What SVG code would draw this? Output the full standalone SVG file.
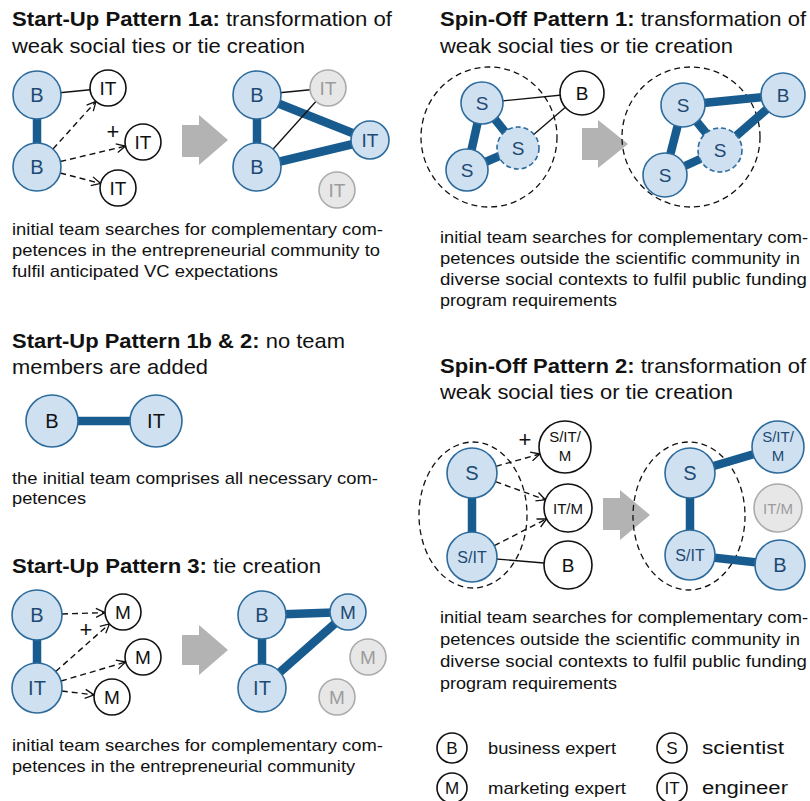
<svg xmlns="http://www.w3.org/2000/svg" width="810" height="801" viewBox="0 0 810 801">
<style>
text{font-family:"Liberation Sans",Arial,Helvetica,sans-serif;fill:#111}
.ti{font-size:21px}
.b{font-weight:bold}
.bd{font-size:17px}
.nb{fill:#cfe0f1;stroke:#2c6b9c;stroke-width:1.6}
.nbd{fill:#cfe0f1;stroke:#2c6b9c;stroke-width:1.6;stroke-dasharray:5 3}
.nw{fill:#fff;stroke:#111;stroke-width:1.6}
.ng{fill:#e7e7e7;stroke:#ababab;stroke-width:1.6}
.l{text-anchor:middle}
.lb{fill:#1d4a73}
.lg{fill:#9c9c9c}
.thick{stroke:#185b8e;stroke-width:8.5;fill:none}
.thin{stroke:#111;stroke-width:1.3;fill:none}
.dash{stroke:#111;stroke-width:1.4;stroke-dasharray:6 4;fill:none;marker-end:url(#arr)}
.ring{fill:none;stroke:#111;stroke-width:1.3;stroke-dasharray:6 4}
.big{fill:#b3b3b3}
</style>
<defs>
<marker id="arr" markerUnits="userSpaceOnUse" markerWidth="12" markerHeight="12" refX="10" refY="6" orient="auto">
<path d="M1,1.5 L10,6 L1,10.5" fill="none" stroke="#111" stroke-width="1.3"/>
</marker>
</defs>

<!-- titles and texts -->
<g id="texts">
<text class="ti" x="12" y="26" textLength="380" lengthAdjust="spacingAndGlyphs"><tspan class="b">Start-Up Pattern 1a:</tspan> transformation of</text>
<text class="ti" x="12" y="53" textLength="293" lengthAdjust="spacingAndGlyphs">weak social ties or tie creation</text>
<text class="ti" x="440" y="26" textLength="366" lengthAdjust="spacingAndGlyphs"><tspan class="b">Spin-Off Pattern 1:</tspan> transformation of</text>
<text class="ti" x="440" y="53" textLength="293" lengthAdjust="spacingAndGlyphs">weak social ties or tie creation</text>
<text class="bd" x="12" y="235" textLength="371" lengthAdjust="spacingAndGlyphs">initial team searches for complementary com-</text>
<text class="bd" x="12" y="256" textLength="368" lengthAdjust="spacingAndGlyphs">petences in the entrepreneurial community to</text>
<text class="bd" x="12" y="277" textLength="266" lengthAdjust="spacingAndGlyphs">fulfil anticipated VC expectations</text>
<text class="bd" x="440" y="243" textLength="368" lengthAdjust="spacingAndGlyphs">initial team searches for complementary com-</text>
<text class="bd" x="440" y="264" textLength="360" lengthAdjust="spacingAndGlyphs">petences outside the scientific community in</text>
<text class="bd" x="440" y="285" textLength="367" lengthAdjust="spacingAndGlyphs">diverse social contexts to fulfil public funding</text>
<text class="bd" x="440" y="306" textLength="177" lengthAdjust="spacingAndGlyphs">program requirements</text>
<text class="ti" x="12" y="348" textLength="333" lengthAdjust="spacingAndGlyphs"><tspan class="b">Start-Up Pattern 1b &amp; 2:</tspan> no team</text>
<text class="ti" x="12" y="374" textLength="196" lengthAdjust="spacingAndGlyphs">members are added</text>
<text class="bd" x="12" y="484" textLength="366" lengthAdjust="spacingAndGlyphs">the initial team comprises all necessary com-</text>
<text class="bd" x="12" y="504" textLength="74" lengthAdjust="spacingAndGlyphs">petences</text>
<text class="ti" x="440" y="373" textLength="366" lengthAdjust="spacingAndGlyphs"><tspan class="b">Spin-Off Pattern 2:</tspan> transformation of</text>
<text class="ti" x="440" y="399" textLength="293" lengthAdjust="spacingAndGlyphs">weak social ties or tie creation</text>
<text class="ti" x="12" y="573" textLength="309" lengthAdjust="spacingAndGlyphs"><tspan class="b">Start-Up Pattern 3:</tspan> tie creation</text>
<text class="bd" x="440" y="623" textLength="368" lengthAdjust="spacingAndGlyphs">initial team searches for complementary com-</text>
<text class="bd" x="440" y="645" textLength="360" lengthAdjust="spacingAndGlyphs">petences outside the scientific community in</text>
<text class="bd" x="440" y="667" textLength="367" lengthAdjust="spacingAndGlyphs">diverse social contexts to fulfil public funding</text>
<text class="bd" x="440" y="689" textLength="177" lengthAdjust="spacingAndGlyphs">program requirements</text>
<text class="bd" x="12" y="751" textLength="371" lengthAdjust="spacingAndGlyphs">initial team searches for complementary com-</text>
<text class="bd" x="12" y="772" textLength="343" lengthAdjust="spacingAndGlyphs">petences in the entrepreneurial community</text>
<text x="113" y="139" font-size="22" class="l">+</text>
<text x="86" y="637" font-size="22" class="l">+</text>
<text x="525" y="447" font-size="22" class="l">+</text>
</g>

<!-- big transition arrows -->
<g id="transitions">
<polygon class="big" points="182,125 199,125 199,115 228,140 199,165 199,157 182,157"/>
<polygon class="big" points="582,128 598,128 598,120 628,144 598,168 598,160 582,160"/>
<polygon class="big" points="182,635 199,635 199,625 228,650 199,675 199,665 182,665"/>
<polygon class="big" points="603,498 620,498 620,490 650,515 620,540 620,530 603,530"/>
</g>

<!-- dashed community rings -->
<g id="rings">
<ellipse class="ring" cx="489" cy="137" rx="68" ry="70"/>
<ellipse class="ring" cx="691" cy="137" rx="69" ry="70"/>
<ellipse class="ring" cx="473" cy="515" rx="54" ry="73"/>
<ellipse class="ring" cx="689" cy="516" rx="56" ry="74"/>
</g>

<g id="connectors">
<!-- SU 1a left -->
<line class="thick" x1="37" y1="95" x2="37" y2="167"/>
<line class="thin" x1="37" y1="95" x2="108" y2="88"/>
<line class="dash" x1="53" y1="149" x2="96" y2="101.4"/>
<line class="dash" x1="60.3" y1="161.5" x2="125.5" y2="146.1"/>
<line class="dash" x1="60.2" y1="173" x2="100.6" y2="183.5"/>
<!-- SU 1a right -->
<line class="thick" x1="257" y1="95" x2="257" y2="167"/>
<line class="thick" x1="257" y1="95" x2="370" y2="140"/>
<line class="thick" x1="257" y1="167" x2="370" y2="140"/>
<line class="thin" x1="257" y1="95" x2="328" y2="88"/>
<line class="thin" x1="257" y1="167" x2="328" y2="88"/>
<!-- SO 1 left -->
<line class="thick" x1="482" y1="103" x2="467" y2="170"/>
<line class="thick" x1="482" y1="103" x2="518" y2="148"/>
<line class="thick" x1="467" y1="170" x2="518" y2="148"/>
<line class="thin" x1="482" y1="103" x2="582" y2="93"/>
<line class="thin" x1="518" y1="148" x2="582" y2="93"/>
<!-- SO 1 right -->
<line class="thick" x1="683" y1="105" x2="665" y2="175"/>
<line class="thick" x1="683" y1="105" x2="720" y2="150"/>
<line class="thick" x1="665" y1="175" x2="720" y2="150"/>
<line class="thick" x1="683" y1="105" x2="783" y2="95"/>
<line class="thick" x1="720" y1="150" x2="783" y2="95"/>
<!-- SU 1b -->
<line class="thick" x1="52" y1="421" x2="156" y2="421" stroke-width="9.5"/>
<!-- SO 2 left -->
<line class="thick" x1="472" y1="473" x2="472" y2="557"/>
<line class="dash" x1="496" y1="466.3" x2="540" y2="454"/>
<line class="dash" x1="495.5" y1="481.6" x2="545.4" y2="499.8"/>
<line class="dash" x1="494.3" y1="545.6" x2="546.6" y2="518.9"/>
<line class="thin" x1="472" y1="557" x2="568" y2="565"/>
<!-- SO 2 right -->
<line class="thick" x1="690" y1="473" x2="690" y2="555"/>
<line class="thick" x1="690" y1="473" x2="778" y2="447"/>
<line class="thick" x1="690" y1="555" x2="780" y2="565"/>
<!-- SU 3 left -->
<line class="thick" x1="37" y1="615" x2="37" y2="688"/>
<line class="dash" x1="62" y1="614" x2="105" y2="612.6"/>
<line class="dash" x1="55.7" y1="671.5" x2="109.5" y2="623.9"/>
<line class="dash" x1="61" y1="681" x2="125.7" y2="662"/>
<line class="dash" x1="61.8" y1="691" x2="94.1" y2="694.9"/>
<!-- SU 3 right -->
<line class="thick" x1="262" y1="615" x2="262" y2="688"/>
<line class="thick" x1="262" y1="615" x2="348" y2="612"/>
<line class="thick" x1="262" y1="688" x2="348" y2="612"/>
</g>

<!-- Start-Up 1a nodes -->
<g id="su1a-B1"><circle class="nb" cx="37" cy="95" r="24"/><text class="l lb" x="37" y="102" font-size="20">B</text></g>
<g id="su1a-B2"><circle class="nb" cx="37" cy="167" r="24"/><text class="l lb" x="37" y="174" font-size="20">B</text></g>
<g id="su1a-IT1"><circle class="nw" cx="108" cy="88" r="18"/><text class="l" x="108" y="95" font-size="19">IT</text></g>
<g id="su1a-IT2"><circle class="nw" cx="143" cy="142" r="18"/><text class="l" x="143" y="149" font-size="19">IT</text></g>
<g id="su1a-IT3"><circle class="nw" cx="118" cy="188" r="18"/><text class="l" x="118" y="195" font-size="19">IT</text></g>
<g id="su1a-B1r"><circle class="nb" cx="257" cy="95" r="24"/><text class="l lb" x="257" y="102" font-size="20">B</text></g>
<g id="su1a-B2r"><circle class="nb" cx="257" cy="167" r="24"/><text class="l lb" x="257" y="174" font-size="20">B</text></g>
<g id="su1a-IT1r"><circle class="ng" cx="328" cy="88" r="18"/><text class="l lg" x="328" y="95" font-size="19">IT</text></g>
<g id="su1a-IT2r"><circle class="nb" cx="370" cy="140" r="19"/><text class="l lb" x="370" y="147" font-size="19">IT</text></g>
<g id="su1a-IT3r"><circle class="ng" cx="337" cy="190" r="18"/><text class="l lg" x="337" y="197" font-size="19">IT</text></g>

<!-- Spin-Off 1 nodes -->
<g id="so1-S1"><circle class="nb" cx="482" cy="103" r="21"/><text class="l lb" x="482" y="110" font-size="19">S</text></g>
<g id="so1-S2"><circle class="nb" cx="467" cy="170" r="21"/><text class="l lb" x="467" y="177" font-size="19">S</text></g>
<g id="so1-S3"><circle class="nbd" cx="518" cy="148" r="21"/><text class="l lb" x="518" y="155" font-size="19">S</text></g>
<g id="so1-B"><circle class="nw" cx="582" cy="93" r="22"/><text class="l" x="582" y="100" font-size="19">B</text></g>
<g id="so1-S1r"><circle class="nb" cx="683" cy="105" r="22"/><text class="l lb" x="683" y="112" font-size="19">S</text></g>
<g id="so1-S2r"><circle class="nb" cx="665" cy="175" r="22"/><text class="l lb" x="665" y="182" font-size="19">S</text></g>
<g id="so1-S3r"><circle class="nbd" cx="720" cy="150" r="22"/><text class="l lb" x="720" y="157" font-size="19">S</text></g>
<g id="so1-Br"><circle class="nb" cx="783" cy="95" r="22"/><text class="l lb" x="783" y="102" font-size="19">B</text></g>

<!-- Start-Up 1b nodes -->
<g id="su1b-B"><circle class="nb" cx="52" cy="421" r="26"/><text class="l" x="52" y="428" font-size="20">B</text></g>
<g id="su1b-IT"><circle class="nb" cx="156" cy="421" r="26"/><text class="l" x="156" y="428" font-size="20">IT</text></g>

<!-- Spin-Off 2 nodes -->
<g id="so2-S"><circle class="nb" cx="472" cy="473" r="25"/><text class="l lb" x="472" y="480" font-size="20">S</text></g>
<g id="so2-SIT"><circle class="nb" cx="472" cy="557" r="25"/><text class="l lb" x="472" y="563" font-size="16">S/IT</text></g>
<g id="so2-SITM"><circle class="nw" cx="565" cy="447" r="26"/><text class="l" x="565" y="442" font-size="15">S/IT/</text><text class="l" x="565" y="461" font-size="15">M</text></g>
<g id="so2-ITM"><circle class="nw" cx="568" cy="508" r="24"/><text class="l" x="568" y="514" font-size="15">IT/M</text></g>
<g id="so2-B"><circle class="nw" cx="568" cy="565" r="24"/><text class="l" x="568" y="572" font-size="19">B</text></g>
<g id="so2-Sr"><circle class="nb" cx="690" cy="473" r="25"/><text class="l lb" x="690" y="480" font-size="20">S</text></g>
<g id="so2-SITr"><circle class="nb" cx="690" cy="555" r="25"/><text class="l lb" x="690" y="561" font-size="16">S/IT</text></g>
<g id="so2-SITMr"><circle class="nb" cx="778" cy="447" r="26"/><text class="l lb" x="778" y="442" font-size="15">S/IT/</text><text class="l lb" x="778" y="461" font-size="15">M</text></g>
<g id="so2-ITMr"><circle class="ng" cx="778" cy="508" r="24"/><text class="l lg" x="778" y="514" font-size="15">IT/M</text></g>
<g id="so2-Br"><circle class="nb" cx="780" cy="565" r="25"/><text class="l lb" x="780" y="572" font-size="20">B</text></g>

<!-- Start-Up 3 nodes -->
<g id="su3-B"><circle class="nb" cx="37" cy="615" r="25"/><text class="l lb" x="37" y="622" font-size="20">B</text></g>
<g id="su3-IT"><circle class="nb" cx="37" cy="688" r="25"/><text class="l lb" x="37" y="695" font-size="20">IT</text></g>
<g id="su3-M1"><circle class="nw" cx="123" cy="612" r="18"/><text class="l" x="123" y="619" font-size="19">M</text></g>
<g id="su3-M2"><circle class="nw" cx="143" cy="657" r="18"/><text class="l" x="143" y="664" font-size="19">M</text></g>
<g id="su3-M3"><circle class="nw" cx="112" cy="697" r="18"/><text class="l" x="112" y="704" font-size="19">M</text></g>
<g id="su3-Br"><circle class="nb" cx="262" cy="615" r="24"/><text class="l lb" x="262" y="622" font-size="20">B</text></g>
<g id="su3-ITr"><circle class="nb" cx="262" cy="688" r="24"/><text class="l lb" x="262" y="695" font-size="20">IT</text></g>
<g id="su3-M1r"><circle class="nb" cx="348" cy="612" r="18"/><text class="l lb" x="348" y="619" font-size="19">M</text></g>
<g id="su3-M2r"><circle class="ng" cx="368" cy="657" r="18"/><text class="l lg" x="368" y="664" font-size="19">M</text></g>
<g id="su3-M3r"><circle class="ng" cx="337" cy="697" r="18"/><text class="l lg" x="337" y="704" font-size="19">M</text></g>

<!-- Legend -->
<g id="legend-B"><circle class="nw" cx="452" cy="748" r="15"/><text class="l" x="452" y="754" font-size="17">B</text><text x="488" y="754" font-size="17" textLength="128" lengthAdjust="spacingAndGlyphs">business expert</text></g>
<g id="legend-S"><circle class="nw" cx="672" cy="748" r="15"/><text class="l" x="672" y="754" font-size="17">S</text><text x="702" y="754" font-size="18" textLength="82" lengthAdjust="spacingAndGlyphs">scientist</text></g>
<g id="legend-M"><circle class="nw" cx="452" cy="788" r="15"/><text class="l" x="452" y="794" font-size="17">M</text><text x="488" y="794" font-size="17" textLength="138" lengthAdjust="spacingAndGlyphs">marketing expert</text></g>
<g id="legend-IT"><circle class="nw" cx="672" cy="788" r="15"/><text class="l" x="672" y="794" font-size="17">IT</text><text x="702" y="794" font-size="18" textLength="86" lengthAdjust="spacingAndGlyphs">engineer</text></g>
</svg>
